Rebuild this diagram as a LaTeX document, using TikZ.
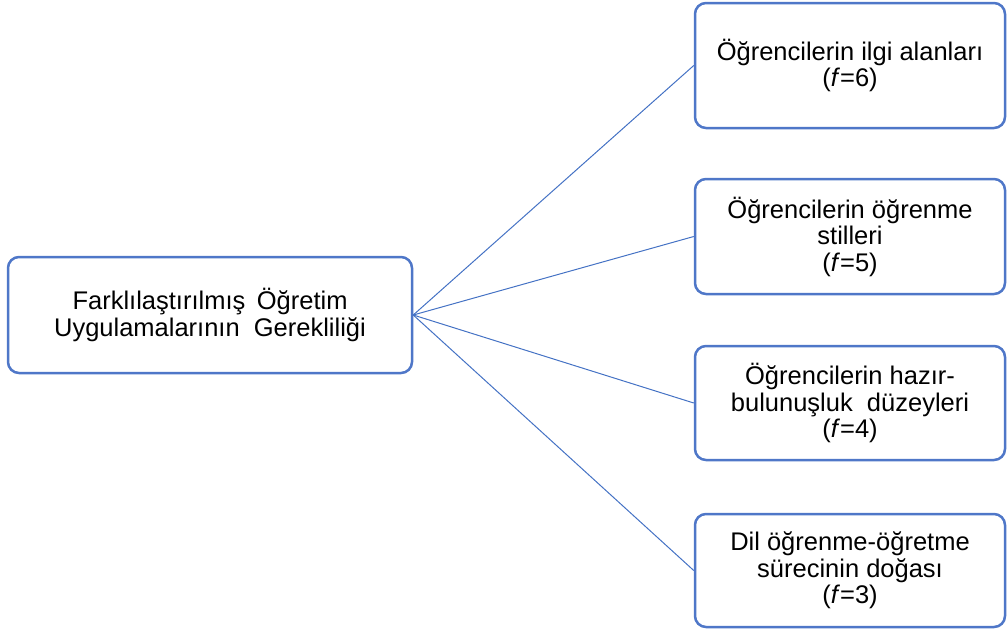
\documentclass[tikz,border=0pt]{standalone}
\usepackage{fontspec}
\setmainfont{Liberation Sans}
\definecolor{boxblue}{RGB}{79,119,200}
\definecolor{linkblue}{RGB}{68,114,196}
\begin{document}
\begin{tikzpicture}[x=1pt,y=-1pt,
  box/.style={draw=boxblue, line width=2.5pt, rounded corners=11pt, fill=white,
    align=center, inner sep=0pt, font=\fontsize{25.5}{26.5}\selectfont},
  leftbox/.style={box, minimum width=404pt, minimum height=116pt},
  rightbox/.style={box, minimum width=310pt},
  link/.style={draw=linkblue, line width=1pt}]
  \useasboundingbox (0,0) rectangle (1008,632);

  % central theme
  \node[leftbox] (main) at (210,315)
    {Farklılaştırılmış\hspace{0.45em}Öğretim\\Uygulamalarının\ \ Gerekliliği};

  % reasons
  \node[rightbox, minimum height=125pt] (r1) at (850,65.5)
    {Öğrencilerin ilgi alanları\\(\textit{f}=6)};
  \node[rightbox, minimum height=115pt] (r2) at (850,236.5)
    {Öğrencilerin öğrenme\\stilleri\\(\textit{f}=5)};
  \node[rightbox, minimum height=114pt] (r3) at (850,403)
    {Öğrencilerin hazır-\\bulunuşluk\ \ düzeyleri\\(\textit{f}=4)};
  \node[rightbox, minimum height=113pt] (r4) at (850,570.5)
    {Dil öğrenme-öğretme\\sürecinin doğası\\(\textit{f}=3)};

  % connectors
  \foreach \r in {r1,r2,r3,r4}
    \draw[link] (main.east) -- (\r.west);
\end{tikzpicture}
\end{document}
